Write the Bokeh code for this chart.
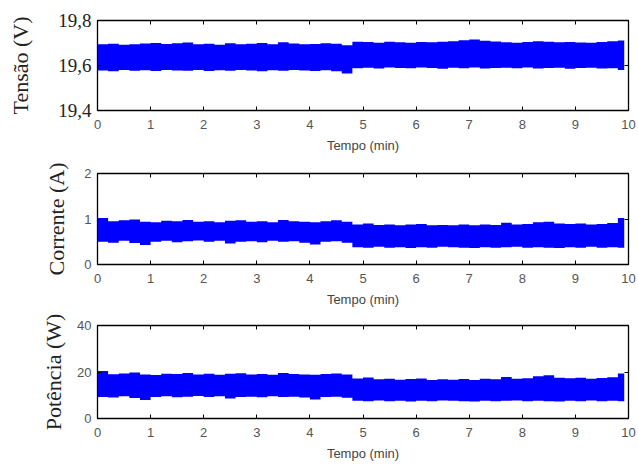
from bokeh.plotting import figure
from bokeh.layouts import column
from bokeh.models import Range1d, FixedTicker, LinearAxis, CustomJSTickFormatter
from bokeh.embed import file_html
from bokeh.resources import INLINE

t = [0.0, 0.2, 0.4, 0.6, 0.8, 1.0, 1.2, 1.4, 1.6, 1.8,
     2.0, 2.2, 2.4, 2.6, 2.8, 3.0, 3.2, 3.4, 3.6, 3.8,
     4.0, 4.2, 4.4, 4.6, 4.8, 5.0, 5.2, 5.4, 5.6, 5.8,
     6.0, 6.2, 6.4, 6.6, 6.8, 7.0, 7.2, 7.4, 7.6, 7.8,
     8.0, 8.2, 8.4, 8.6, 8.8, 9.0, 9.2, 9.4, 9.6, 9.8, 9.92]

tensao_max = [19.695, 19.697, 19.692, 19.694, 19.698, 19.700, 19.696, 19.699, 19.702, 19.694,
              19.697, 19.692, 19.699, 19.694, 19.697, 19.700, 19.695, 19.703, 19.698, 19.694,
              19.696, 19.699, 19.697, 19.690, 19.706, 19.704, 19.701, 19.706, 19.703, 19.701,
              19.705, 19.703, 19.706, 19.708, 19.712, 19.716, 19.710, 19.707, 19.703, 19.701,
              19.704, 19.708, 19.706, 19.703, 19.704, 19.702, 19.701, 19.705, 19.708, 19.711, 19.711]
tensao_min = [19.578, 19.575, 19.580, 19.577, 19.579, 19.576, 19.580, 19.578, 19.577, 19.580,
              19.576, 19.579, 19.577, 19.580, 19.578, 19.575, 19.579, 19.577, 19.580, 19.578,
              19.576, 19.579, 19.574, 19.565, 19.588, 19.590, 19.587, 19.591, 19.589, 19.588,
              19.591, 19.589, 19.586, 19.590, 19.588, 19.591, 19.587, 19.589, 19.590, 19.588,
              19.591, 19.587, 19.589, 19.590, 19.586, 19.589, 19.590, 19.587, 19.588, 19.580, 19.580]

corrente_max = [1.02, 0.95, 0.97, 0.99, 0.94, 0.93, 0.96, 0.95, 0.98, 0.94,
                0.95, 0.93, 0.96, 0.97, 0.94, 0.95, 0.93, 0.98, 0.95, 0.94,
                0.93, 0.95, 0.97, 0.94, 0.88, 0.90, 0.87, 0.88, 0.86, 0.88,
                0.89, 0.86, 0.87, 0.86, 0.88, 0.86, 0.88, 0.87, 0.92, 0.88,
                0.89, 0.93, 0.94, 0.90, 0.89, 0.90, 0.88, 0.89, 0.91, 1.02, 1.02]
corrente_min = [0.50, 0.48, 0.52, 0.47, 0.43, 0.50, 0.52, 0.49, 0.51, 0.53,
                0.50, 0.52, 0.46, 0.50, 0.51, 0.49, 0.52, 0.50, 0.51, 0.48,
                0.44, 0.50, 0.51, 0.48, 0.38, 0.37, 0.39, 0.37, 0.38, 0.36,
                0.38, 0.37, 0.39, 0.38, 0.37, 0.36, 0.38, 0.37, 0.38, 0.39,
                0.37, 0.38, 0.37, 0.36, 0.38, 0.37, 0.39, 0.37, 0.38, 0.37, 0.37]

potencia_max = [20.4, 19.0, 19.4, 19.8, 18.9, 18.7, 19.3, 19.1, 19.6, 18.9,
                19.2, 18.8, 19.3, 19.5, 18.9, 19.1, 18.8, 19.6, 19.1, 18.9,
                18.8, 19.1, 19.4, 18.9, 17.2, 17.6, 16.9, 17.1, 16.7, 17.0,
                17.2, 16.6, 16.9, 16.7, 17.0, 16.6, 17.1, 16.9, 17.8, 17.1,
                17.3, 18.2, 18.6, 17.5, 17.3, 17.5, 17.1, 17.4, 17.7, 19.4, 19.4]
potencia_min = [9.3, 9.0, 9.6, 8.8, 8.0, 9.3, 9.6, 9.1, 9.4, 9.7,
                9.3, 9.6, 8.6, 9.3, 9.4, 9.1, 9.6, 9.3, 9.4, 9.0,
                8.2, 9.3, 9.4, 8.9, 7.6, 7.4, 7.7, 7.4, 7.6, 7.3,
                7.6, 7.4, 7.7, 7.6, 7.4, 7.3, 7.6, 7.4, 7.6, 7.7,
                7.4, 7.6, 7.4, 7.3, 7.6, 7.4, 7.7, 7.4, 7.6, 7.4, 7.4]

x_ticks = [0, 1, 2, 3, 4, 5, 6, 7, 8, 9, 10]
x_label = "Tempo (min)"

panels = [
    dict(label="Tensão (V)", lo=tensao_min, hi=tensao_max, yr=(19.4, 19.8),
         yt=[19.4, 19.6, 19.8], ylab={19.4: "19,4", 19.6: "19,6", 19.8: "19,8"},
         serif_ticks=True, top=20, bottom=45, standoff=22),
    dict(label="Corrente (A)", lo=corrente_min, hi=corrente_max, yr=(0, 2),
         yt=[0, 1, 2], ylab={}, serif_ticks=False, top=18, bottom=46, standoff=12),
    dict(label="Potência (W)", lo=potencia_min, hi=potencia_max, yr=(0, 40),
         yt=[0, 20, 40], ylab={}, serif_ticks=False, top=15, bottom=47, standoff=8),
]

blank = CustomJSTickFormatter(code="return ''")

W, H = 638, 155
figs = []
for pn in panels:
    p = figure(width=W, height=H, output_backend="svg", toolbar_location=None,
               x_range=Range1d(0, 10), y_range=Range1d(*pn["yr"]),
               min_border_left=97, min_border_right=10,
               min_border_top=pn["top"], min_border_bottom=pn["bottom"])
    p.grid.visible = False
    p.outline_line_color = "black"
    p.outline_line_width = 1.3
    p.background_fill_color = "white"
    p.border_fill_color = "white"

    p.varea_step(x=t, y1=pn["lo"], y2=pn["hi"], step_mode="after",
                 fill_color="#0000FF")

    xa = p.xaxis[0]
    xa.ticker = FixedTicker(ticks=x_ticks)
    xa.axis_label = x_label
    xa.axis_label_text_font = "Liberation Sans"
    xa.axis_label_text_font_style = "normal"
    xa.axis_label_text_font_size = "13px"
    xa.axis_label_text_color = "#444444"
    xa.axis_label_standoff = 6
    xa.major_label_text_font = "Liberation Sans"
    xa.major_label_text_font_size = "13px"
    xa.major_label_text_color = "#555555"
    xa.major_label_standoff = 9
    xa.major_tick_in = 4
    xa.major_tick_out = 0
    xa.minor_tick_line_color = None
    xa.axis_line_color = "black"
    xa.major_tick_line_color = "black"

    ya = p.yaxis[0]
    ya.ticker = FixedTicker(ticks=pn["yt"])
    if pn["ylab"]:
        ya.major_label_overrides = pn["ylab"]
    ya.axis_label = pn["label"]
    ya.axis_label_text_font = "Liberation Serif"
    ya.axis_label_text_font_style = "normal"
    ya.axis_label_text_font_size = "22px"
    ya.axis_label_text_color = "#222222"
    ya.axis_label_standoff = pn["standoff"]
    if pn["serif_ticks"]:
        ya.major_label_text_font = "Liberation Serif"
        ya.major_label_text_font_size = "19px"
        ya.major_label_text_color = "#222222"
    else:
        ya.major_label_text_font = "Liberation Sans"
        ya.major_label_text_font_size = "13px"
        ya.major_label_text_color = "#555555"
    ya.major_label_standoff = 6
    ya.major_tick_in = 4
    ya.major_tick_out = 0
    ya.minor_tick_line_color = None

    # mirrored ticks on the top and right side of the box
    ra = LinearAxis(ticker=FixedTicker(ticks=pn["yt"]), formatter=blank,
                    major_tick_in=4, major_tick_out=0, minor_tick_line_color=None,
                    major_label_standoff=0, axis_line_color="black")
    p.add_layout(ra, "right")
    ta = LinearAxis(ticker=FixedTicker(ticks=x_ticks), formatter=blank,
                    major_tick_in=4, major_tick_out=0, minor_tick_line_color=None,
                    major_label_standoff=0, axis_line_color="black")
    p.add_layout(ta, "above")
    figs.append(p)

layout = column(*figs, spacing=0)
open("out.html", "w").write(file_html(layout, INLINE))
